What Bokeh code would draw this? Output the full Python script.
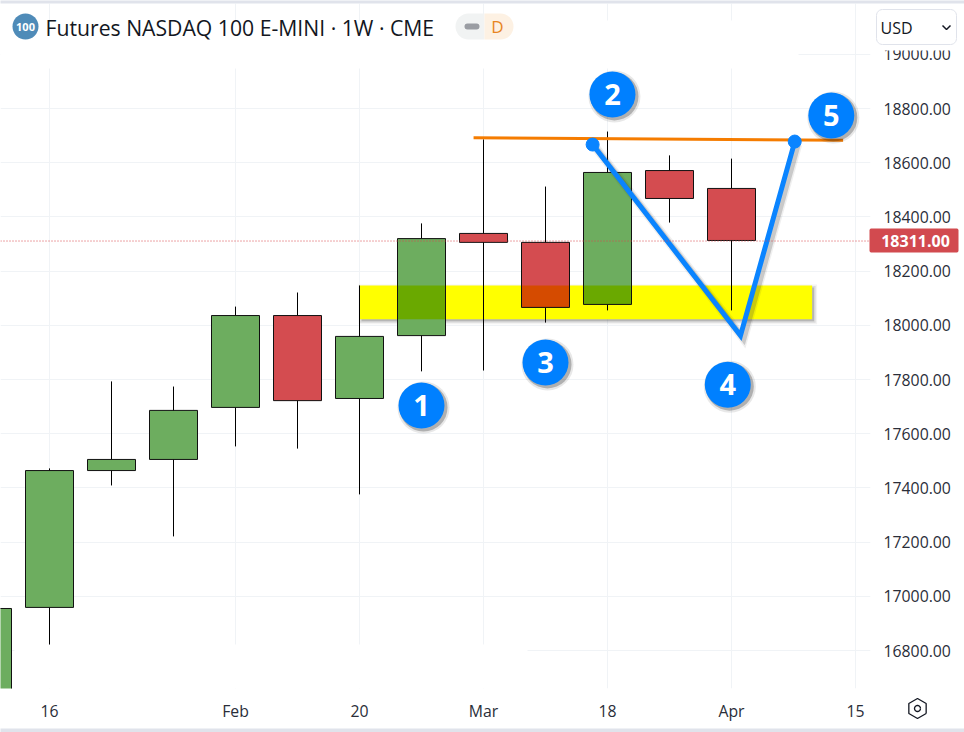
import math
from bokeh.plotting import figure
from bokeh.models import BoxAnnotation, Range1d, FixedTicker, NumeralTickFormatter, Span, ColumnDataSource
from bokeh.core.properties import value
from bokeh.embed import file_html
from bokeh.resources import INLINE

# ---------- data ----------
weeks  = [-1, 0, 1, 2, 3, 4, 5, 6, 7, 8, 9, 10, 11]
opens  = [16590, 16959, 17464, 17505, 17697, 18036, 17730, 17962, 18339, 18306, 18077, 18571, 18505]
highs  = [16955, 17472, 17793, 17774, 18069, 18121, 18147, 18376, 18686, 18512, 18715, 18627, 18615]
lows   = [16500, 16822, 17409, 17221, 17553, 17545, 17376, 17830, 17833, 18010, 18055, 18379, 18055]
closes = [16955, 17464, 17505, 17686, 18036, 17722, 17959, 18320, 18306, 18066, 18564, 18468, 18313]
x_tick_pos = [0, 3, 5, 7, 9, 11, 13]
x_tick_lab = ["16", "Feb", "20", "Mar", "18", "Apr", "15"]
y_ticks = [16800, 17000, 17200, 17400, 17600, 17800, 18000, 18200, 18400, 18600, 18800, 19000]
last_price = 18311
band_x = [5.0, 12.3]
band_y = [18022, 18147]
resist_x = [6.84, 12.8]
resist_y = [18692, 18683]
swing_x = [8.76, 11.145, 12.02]
swing_y = [18667, 17962, 18678]
note_x = [6.0, 9.08, 8.0, 10.94, 12.61]
note_y = [17704, 18852, 17863, 17781, 18774]
note_t = ["1", "2", "3", "4", "5"]

# ---------- pixel helpers ----------
W, H = 964, 732
L, R, T, B = 0, 870, 3, 688
UX = 1 / 62.0
UY = 200 / 54.2
def X(px): return (px - 49) * UX
def Y(py): return 16800 + (650 - py) * UY

FONT = "Open Sans"
p = figure(width=W, height=H, output_backend="svg", toolbar_location=None,
           x_range=Range1d(X(L), X(R)), y_range=Range1d(Y(B), Y(T)),
           min_border_left=L, min_border_right=W - R, min_border_top=T, min_border_bottom=H - B,
           outline_line_color=None, background_fill_color="white", border_fill_color="white",
           x_axis_location="below", y_axis_location="right")

GRID = "#f0f3f6"
p.xaxis.ticker = FixedTicker(ticks=x_tick_pos)
p.xaxis.major_label_overrides = dict(zip(x_tick_pos, x_tick_lab))
p.yaxis.ticker = FixedTicker(ticks=y_ticks)
p.yaxis.formatter = NumeralTickFormatter(format="0.00")
for ax in (p.xaxis[0], p.yaxis[0]):
    ax.axis_line_color = None
    ax.major_tick_line_color = None
    ax.minor_tick_line_color = None
    ax.major_label_text_font = FONT
    ax.major_label_text_font_size = "15.8px"
    ax.major_label_text_color = "#2a2e39"
p.xaxis.major_label_standoff = 5
p.yaxis.major_label_standoff = 7
p.xgrid.ticker = FixedTicker(ticks=x_tick_pos)
p.ygrid.ticker = FixedTicker(ticks=y_ticks)
p.xgrid.grid_line_color = GRID
p.ygrid.grid_line_color = GRID

# overlay-level helpers: these glyphs may sit outside the plot frame
def rrect(left, right, top, bottom, color, line=None, radius=0):
    xs, ys = [], []
    corners = [(right - radius, top + radius, -90), (right - radius, bottom - radius, 0),
               (left + radius, bottom - radius, 90), (left + radius, top + radius, 180)]
    for cx, cy, a0 in corners:
        for k in range(7):
            a = math.radians(a0 + k * 15)
            xs.append(X(cx + radius * math.cos(a)))
            ys.append(Y(cy + radius * math.sin(a)))
    p.patch(xs, ys, fill_color=color, line_color=line, level="overlay")

def ring(cx, cy, r, n, start):
    xs = [X(cx + r * math.cos(math.radians(start + k * 360 / n))) for k in range(n + 1)]
    ys = [Y(cy + r * math.sin(math.radians(start + k * 360 / n))) for k in range(n + 1)]
    p.line(xs, ys, line_color="#131722", line_width=1.3, level="overlay")

def txt(px, py, t, color="#131722", size="15px", style="normal", align="center", font=FONT):
    p.text([X(px)], [Y(py)], text=[t], text_color=color, text_font=value(font), text_font_size=value(size),
           text_font_style=style, text_align=align, text_baseline="middle", level="overlay")

# whited-out parts of the grid (above the grid, below the marks)
p.quad(left=[X(0)], right=[X(798)], top=[Y(20)], bottom=[Y(68)], color="white", line_color=None)
p.quad(left=[X(14)], right=[X(527)], top=[Y(644)], bottom=[Y(688)], color="white", line_color=None)

# last-price line
p.add_layout(Span(location=last_price, dimension="width", line_color="#d8474b",
                  line_width=1, line_dash="1 2"))

# highlight band + shadow
s = 2
for grow, a in ((3, 0.06), (1.5, 0.12), (0, 0.22)):
    p.quad(left=[band_x[0] + s * UX - grow * UX], right=[band_x[1] + s * UX + grow * UX],
           top=[band_y[1] - s * UY + grow * UY], bottom=[band_y[0] - s * UY - grow * UY],
           color="#303030", alpha=a, line_color=None)
p.quad(left=[band_x[0]], right=[band_x[1]], top=[band_y[1]], bottom=[band_y[0]],
       color="#ffff00", line_color=None)

# candles
GREEN, RED = "#6dad5f", "#d44c50"
GREEN_B, RED_B = "#6aa900", "#d54b00"
up = [c >= o for o, c in zip(opens, closes)]
hw = 24 * UX
src = ColumnDataSource(dict(
    x=weeks, hi=highs, lo=lows,
    left=[w - hw for w in weeks], right=[w + hw for w in weeks],
    top=[max(o, c) for o, c in zip(opens, closes)],
    bot=[min(o, c) for o, c in zip(opens, closes)],
    col=[GREEN if u else RED for u in up]))
p.segment(x0="x", x1="x", y0="lo", y1="hi", source=src, line_color="#000000", line_width=1)
p.quad(left="left", right="right", top="top", bottom="bot", source=src,
       fill_color="col", line_color=None)
ov = [i for i in range(len(weeks))
      if band_x[0] < weeks[i] < band_x[1]
      and min(max(opens[i], closes[i]), band_y[1]) > max(min(opens[i], closes[i]), band_y[0])]
p.quad(left=[weeks[i] - hw for i in ov], right=[weeks[i] + hw for i in ov],
       top=[min(max(opens[i], closes[i]), band_y[1]) for i in ov],
       bottom=[max(min(opens[i], closes[i]), band_y[0]) for i in ov],
       fill_color=[GREEN_B if up[i] else RED_B for i in ov], line_color=None)
p.quad(left="left", right="right", top="top", bottom="bot", source=src,
       fill_color=None, line_color="#111111", line_width=1)

# resistance line
p.line(resist_x, resist_y, line_color="#f57c00", line_width=3)

# swing line with shadow
for w, a in ((9, 0.08), (6, 0.2)):
    p.line([v + 3 * UX for v in swing_x], [v - 3 * UY for v in swing_y], line_color="#303030",
           line_width=w, line_alpha=a, line_join="miter")
p.line(swing_x, swing_y, line_color="#0a84ff", line_width=5, line_join="miter")
p.scatter([swing_x[0], swing_x[2]], [swing_y[0], swing_y[2]], size=13, color="#0a84ff")

# numbered notes
nx3 = [v + 2 * UX for v in note_x]
ny3 = [v - 2 * UY for v in note_y]
p.scatter(nx3, ny3, size=52, color="#202020", alpha=0.10, line_color=None)
p.scatter(nx3, ny3, size=48, color="#202020", alpha=0.28, line_color=None)
p.scatter(note_x, note_y, size=46, color="#0080ff", line_color=None)
p.text(note_x, note_y, text=note_t, text_color="white", text_font=value(FONT), text_font_style="bold",
       text_font_size=value("29px"), text_align="center", text_baseline="middle")

# header patch over the top price label, USD selector
p.quad(left=[X(872)], right=[X(964)], top=[Y(3)], bottom=[Y(50)], color="white", line_color=None, level="overlay")
rrect(876, 956, 9, 44, "white", line="#e0e3eb", radius=6)
txt(880, 27, "USD", size="16px", align="left")
p.line([X(942), X(946), X(950)], [Y(25), Y(29), Y(25)], line_color="#131722", line_width=1.5, level="overlay")

# last-price tag
rrect(869, 958, 228, 252, "#d24a4f", radius=2)
txt(915, 240.5, f"{last_price:.2f}", color="white", style="bold", size="16px")

# header
p.scatter([X(25)], [Y(26)], size=26, color="#4f8bb8", line_color=None)
txt(25, 26, "100", color="white", size="11px", style="bold")
txt(45, 27, "Futures NASDAQ 100 E-MINI \u00b7 1W \u00b7 CME", size="21.2px", align="left")
p.add_layout(BoxAnnotation(left=X(455), right=X(484), top=Y(13), bottom=Y(39), fill_color="#f1f3f3",
                           fill_alpha=1, line_color=None, border_radius=(13, 0, 0, 13)))
p.add_layout(BoxAnnotation(left=X(484), right=X(513), top=Y(13), bottom=Y(39), fill_color="#fdf1e3",
                           fill_alpha=1, line_color=None, border_radius=(0, 13, 13, 0)))
p.add_layout(BoxAnnotation(left=X(464), right=X(479), top=Y(23), bottom=Y(29), fill_color="#9a9da3",
                           fill_alpha=1, line_color=None, border_radius=3))
txt(497, 26, "D", color="#e8861f", size="17px")

# settings icon
ring(917, 708, 10, 6, 30)
ring(917, 708, 3, 16, 0)

# page edges
p.quad(left=[X(0)], right=[X(964)], top=[Y(0)], bottom=[Y(3)], color="#e0e3eb", line_color=None, level="overlay")
p.quad(left=[X(0)], right=[X(964)], top=[Y(728)], bottom=[Y(732)], color="#e0e3eb", line_color=None, level="overlay")

open("out.html", "w").write(file_html(p, INLINE))
